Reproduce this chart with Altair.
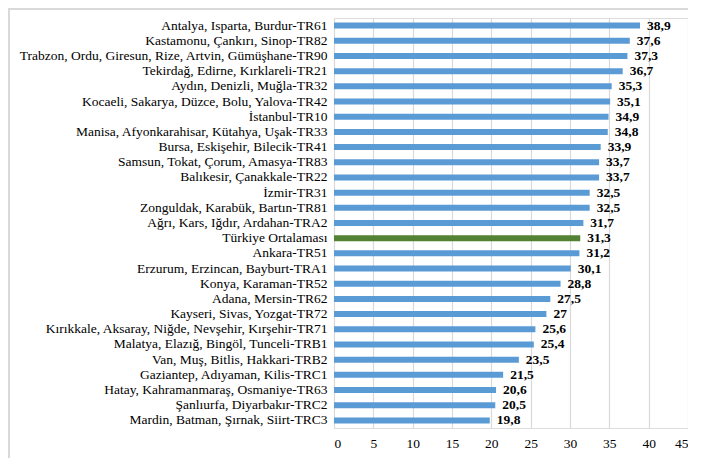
import altair as alt
import pandas as pd

regions = [
    "Antalya, Isparta, Burdur-TR61",
    "Kastamonu, Çankırı, Sinop-TR82",
    "Trabzon, Ordu, Giresun, Rize, Artvin, Gümüşhane-TR90",
    "Tekirdağ, Edirne, Kırklareli-TR21",
    "Aydın, Denizli, Muğla-TR32",
    "Kocaeli, Sakarya, Düzce, Bolu, Yalova-TR42",
    "İstanbul-TR10",
    "Manisa, Afyonkarahisar, Kütahya, Uşak-TR33",
    "Bursa, Eskişehir, Bilecik-TR41",
    "Samsun, Tokat, Çorum, Amasya-TR83",
    "Balıkesir, Çanakkale-TR22",
    "İzmir-TR31",
    "Zonguldak, Karabük, Bartın-TR81",
    "Ağrı, Kars, Iğdır, Ardahan-TRA2",
    "Türkiye Ortalaması",
    "Ankara-TR51",
    "Erzurum, Erzincan, Bayburt-TRA1",
    "Konya, Karaman-TR52",
    "Adana, Mersin-TR62",
    "Kayseri, Sivas, Yozgat-TR72",
    "Kırıkkale, Aksaray, Niğde, Nevşehir, Kırşehir-TR71",
    "Malatya, Elazığ, Bingöl, Tunceli-TRB1",
    "Van, Muş, Bitlis, Hakkari-TRB2",
    "Gaziantep, Adıyaman, Kilis-TRC1",
    "Hatay, Kahramanmaraş, Osmaniye-TR63",
    "Şanlıurfa, Diyarbakır-TRC2",
    "Mardin, Batman, Şırnak, Siirt-TRC3",
]
values = [38.9, 37.6, 37.3, 36.7, 35.3, 35.1, 34.9, 34.8, 33.9, 33.7, 33.7,
          32.5, 32.5, 31.7, 31.3, 31.2, 30.1, 28.8, 27.5, 27, 25.6, 25.4,
          23.5, 21.5, 20.6, 20.5, 19.8]
x_ticks = [0, 5, 10, 15, 20, 25, 30, 35, 40, 45]

df = pd.DataFrame({"region": regions, "value": values})
df["label"] = df["value"].map(lambda v: (f"{v:g}").replace(".", ","))
df["kind"] = ["avg" if r == "Türkiye Ortalaması" else "reg" for r in regions]

FONT = "Liberation Serif, LiberationSerif, Tinos, Nimbus Roman, DejaVu Serif"
W, H = 354, 410

y = alt.Y("region:N", sort=regions, title=None,
          scale=alt.Scale(paddingInner=0, paddingOuter=0),
          axis=alt.Axis(labelFont=FONT, labelFontSize=13.5, labelColor="#000",
                        labelPadding=7, ticks=False, domain=False, labelLimit=400))
x = alt.X("value:Q", title=None,
          scale=alt.Scale(domain=[0, 45], nice=False),
          axis=alt.Axis(values=x_ticks, labelFont=FONT, labelFontSize=13.5,
                        labelColor="#000", grid=True, gridColor="#d9d9d9",
                        gridWidth=1.2, ticks=False, domain=False, labelPadding=8,
                        labelOverlap=False))

bars = alt.Chart(df).mark_bar(size=6).encode(
    y=y, x=x,
    color=alt.Color("kind:N", scale=alt.Scale(domain=["reg", "avg"],
                                              range=["#5b9bd5", "#548235"]),
                    legend=None),
)
text = alt.Chart(df).mark_text(align="left", baseline="middle", dx=7,
                               font=FONT, fontSize=13.5, fontWeight="bold",
                               color="#000").encode(
    y=y, x=x, text="label:N")

border_left = alt.Chart(df).mark_rule(color="#d9d9d9", strokeWidth=2, clip=False).encode(
    x=alt.value(-325), y=alt.value(-10), y2=alt.value(H + 40))
border_top = alt.Chart(df).mark_rule(color="#d9d9d9", strokeWidth=2, clip=False).encode(
    x=alt.value(-325), x2=alt.value(W + 20), y=alt.value(-9))

chart = alt.layer(border_left, border_top, bars, text).properties(
    width=W, height=H,
    autosize=alt.AutoSizeParams(type="none"),
    padding={"left": 326, "top": 10, "right": 0, "bottom": 30},
).configure_view(stroke=None).configure(background="white")

chart.save("out.html", embed_options={"renderer": "svg", "actions": False})
